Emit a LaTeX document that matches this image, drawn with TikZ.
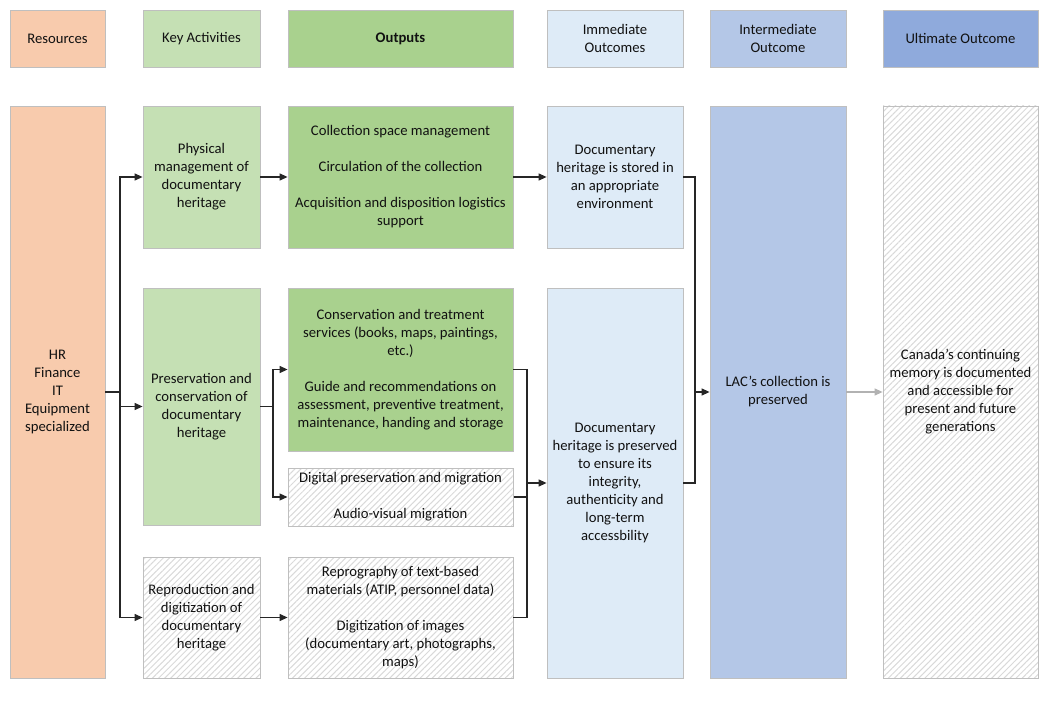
\documentclass[tikz,border=0pt]{standalone}
\usepackage{fontspec}
\setmainfont{Carlito}
\usetikzlibrary{arrows.meta,patterns.meta}
\definecolor{peach}{HTML}{F8CBAD}
\definecolor{palegreen}{HTML}{C5E0B4}
\definecolor{midgreen}{HTML}{A9D18E}
\definecolor{paleblue}{HTML}{DEEBF7}
\definecolor{midblue}{HTML}{B4C7E7}
\definecolor{deepblue}{HTML}{8FAADC}
\definecolor{boxline}{HTML}{BFBFBF}
\definecolor{txt}{HTML}{111111}
\begin{document}
\begin{tikzpicture}[x=1pt,y=-1pt,
  box/.style={draw=boxline,line width=0.8pt,align=center,text=txt,font=\fontsize{14.67}{18}\selectfont},
  hatch/.style={box,pattern={Lines[angle=45,distance=4.3pt,line width=1pt]},pattern color=gray!30},
  link/.style={line width=1.2pt,black!85},
  arr/.style={link,-{Triangle[length=8pt,width=7pt]}}]
\tikzstyle{every node}+=[inner sep=0pt]
\useasboundingbox (0,0) rectangle (1050,703);
\node[box,fill=peach,minimum width=95pt,minimum height=57pt] (hres) at (57.5,38.5) {Resources};
\node[box,fill=palegreen,minimum width=117pt,minimum height=57pt] (hact) at (201.5,38.5) {Key Activities};
\node[box,fill=midgreen,minimum width=225pt,minimum height=57pt] (hout) at (400.5,38.5) {\bfseries Outputs};
\node[box,fill=paleblue,minimum width=136pt,minimum height=57pt] (himm) at (615,38.5) {Immediate\\Outcomes};
\node[box,fill=midblue,minimum width=136pt,minimum height=57pt] (hint) at (778,38.5) {Intermediate\\Outcome};
\node[box,fill=deepblue,minimum width=155pt,minimum height=57pt] (hult) at (960.5,38.5) {Ultimate Outcome};
\node[box,fill=peach,minimum width=95pt,minimum height=572pt] (res) at (57.5,392) {HR\\Finance\\IT\\Equipment\\specialized};
\node[box,fill=palegreen,minimum width=117pt,minimum height=142pt] (phys) at (201.5,177) {Physical\\management of\\documentary\\heritage};
\node[box,fill=midgreen,minimum width=225pt,minimum height=142pt] (out1) at (400.5,177) {Collection space management\\[18pt]Circulation of the collection\\[18pt]Acquisition and disposition logistics\\support};
\node[box,fill=paleblue,minimum width=136pt,minimum height=142pt] (imm1) at (615,177) {Documentary\\heritage is stored in\\an appropriate\\environment};
\node[box,fill=palegreen,minimum width=117pt,minimum height=237pt] (pres) at (201.5,406.5) {Preservation and\\conservation of\\documentary\\heritage};
\node[box,fill=midgreen,minimum width=225pt,minimum height=163pt] (out2) at (400.5,369.5) {Conservation and treatment\\services (books, maps, paintings,\\etc.)\\[18pt]Guide and recommendations on\\assessment, preventive treatment,\\maintenance, handing and storage};
\node[hatch,minimum width=225pt,minimum height=58pt] (dig) at (400.5,497) {Digital preservation and migration\\[18pt]Audio-visual migration};
\node[hatch,minimum width=117pt,minimum height=121pt] (repro) at (201.5,617.5) {Reproduction and\\digitization of\\documentary\\heritage};
\node[hatch,minimum width=225pt,minimum height=121pt] (out3) at (400.5,617.5) {Reprography of text-based\\materials (ATIP, personnel data)\\[18pt]Digitization of images\\(documentary art, photographs,\\maps)};
\node[box,fill=paleblue,minimum width=136pt,minimum height=390pt] (imm2) at (615,483) {Documentary\\heritage is preserved\\to ensure its\\integrity,\\authenticity and\\long-term\\accessbility};
\node[box,fill=midblue,minimum width=136pt,minimum height=572pt] (inter) at (778,392) {LAC’s collection is\\preserved};
\node[hatch,minimum width=155pt,minimum height=572pt] (ult) at (960.5,392) {Canada’s continuing\\memory is documented\\and accessible for\\present and future\\generations};
\coordinate (r0) at (120,392);
\coordinate (p0) at (273,406.5);
\coordinate (o0) at (527,483);
\coordinate (i0) at (695,392);
\draw[link] (res.east) -- (r0);
\draw[arr] (r0) |- (phys.west);
\draw[arr] (r0) |- (pres.west);
\draw[arr] (r0) |- (repro.west);
\draw[arr] (phys.east) -- (out1.west);
\draw[arr] (out1.east) -- (imm1.west);
\draw[link] (pres.east) -- (p0);
\draw[arr] (p0) |- (out2.west);
\draw[arr] (p0) |- (dig.west);
\draw[arr] (repro.east) -- (out3.west);
\draw[link] (out2.east) -| (o0);
\draw[link] (dig.east) -| (o0);
\draw[link] (out3.east) -| (o0);
\draw[arr] (o0) -- (imm2.west);
\draw[link] (imm1.east) -| (i0);
\draw[link] (imm2.east) -| (i0);
\draw[arr] (i0) -- (inter.west);
\draw[arr,gray!60] (inter.east) -- (ult.west);
\end{tikzpicture}
\end{document}
